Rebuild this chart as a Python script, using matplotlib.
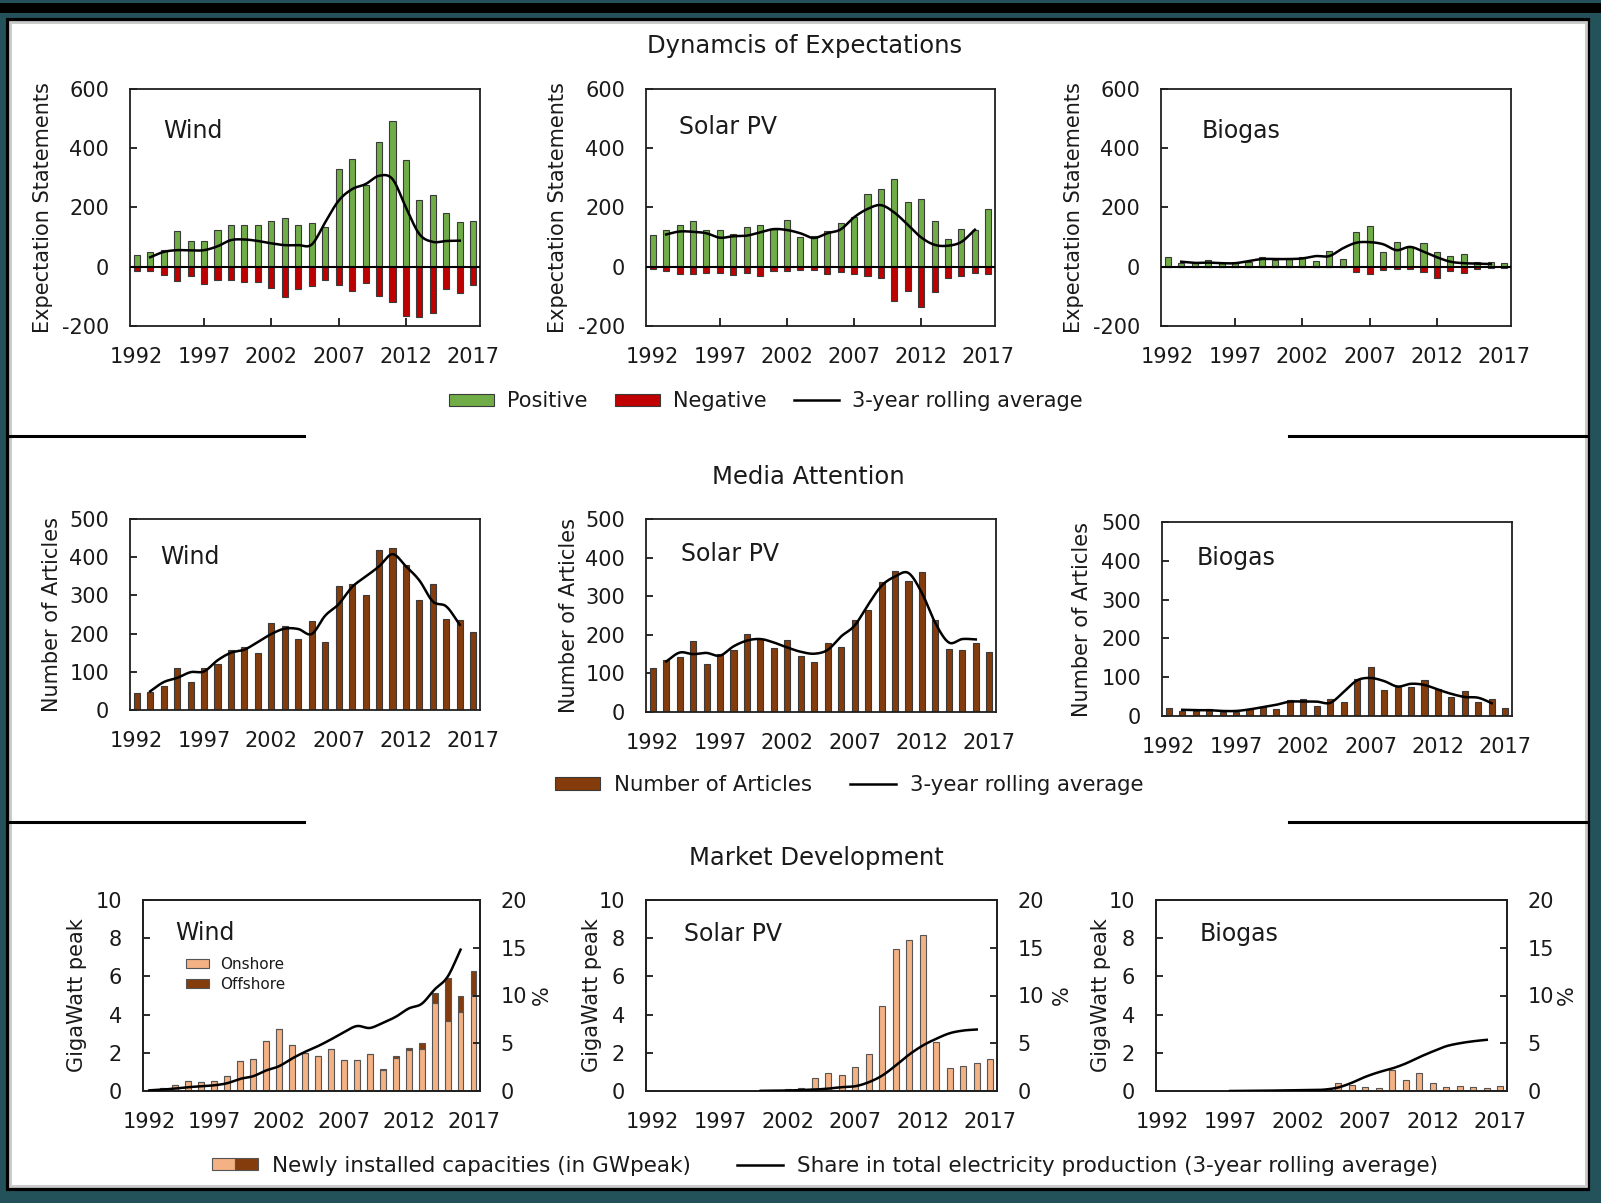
import numpy as np
import matplotlib
matplotlib.use("Agg")
import matplotlib.pyplot as plt
from matplotlib.patches import Patch, Rectangle
from matplotlib.lines import Line2D
from matplotlib.legend_handler import HandlerTuple

# ---- data -------------------------------------------------------------
years = np.arange(1992, 2018)
tick_years = [1992, 1997, 2002, 2007, 2012, 2017]

# expectation statements (positive / negative counts, net 3-year average 1993-2016)
wind_pos = [38, 51, 57, 120, 87, 88, 125, 140, 142, 140, 156, 164, 142, 146, 135,
            330, 363, 276, 420, 493, 362, 225, 243, 181, 150, 154]
wind_neg = [-16, -13, -27, -47, -30, -58, -45, -45, -52, -52, -72, -101, -75, -66, -44,
            -61, -81, -55, -99, -120, -165, -168, -155, -75, -87, -62]
wind_avg = [32, 50, 56, 55, 56, 69, 90, 92, 87, 79, 73, 73, 75, 150, 223, 262, 279,
            307, 296, 200, 110, 84, 87, 88]

solar_pos = [107, 125, 140, 155, 123, 124, 111, 135, 140, 127, 157, 100, 103, 120, 147,
             167, 247, 262, 295, 219, 228, 154, 93, 129, 125, 195]
solar_neg = [-9, -16, -24, -25, -20, -22, -27, -20, -32, -13, -13, -11, -10, -24, -18,
             -25, -30, -39, -115, -82, -135, -85, -39, -30, -20, -25]
solar_avg = [109, 119, 118, 113, 98, 103, 105, 116, 127, 124, 113, 97, 113, 126, 167,
             195, 208, 183, 142, 99, 74, 71, 84, 125]

bio_pos = [34, 13, 11, 22, 13, 12, 17, 33, 22, 25, 33, 20, 52, 25, 117, 137, 51, 82,
           67, 80, 51, 35, 43, 16, 16, 12]
bio_neg = [0, 0, 0, 0, 0, 0, 0, 0, 0, 0, 0, 0, 0, 0, -17, -25, -11, -9, -9, -19, -39,
           -13, -22, -8, -4, -5]
bio_avg = [17, 13, 14, 12, 12, 19, 26, 26, 26, 28, 36, 36, 62, 81, 83, 76, 56, 67, 51,
           32, 17, 12, 11, 9]

# media attention (articles per year, 3-year average 1993-2016)
wind_art = [45, 47, 62, 111, 72, 110, 121, 158, 164, 150, 229, 219, 185, 232, 178, 324,
            330, 302, 419, 424, 380, 289, 331, 237, 236, 203]
wind_art_avg = [49, 73, 84, 99, 101, 130, 150, 158, 178, 199, 213, 212, 199, 247, 277,
                322, 349, 376, 408, 376, 339, 284, 271, 223]

solar_art = [115, 135, 143, 184, 125, 151, 161, 202, 189, 166, 187, 146, 130, 179, 169,
             239, 263, 337, 366, 340, 362, 238, 163, 160, 179, 155]
solar_art_avg = [131, 154, 150, 153, 146, 170, 185, 189, 180, 167, 156, 151, 161, 196,
                 224, 278, 327, 351, 360, 308, 230, 180, 189, 188]

bio_art = [21, 13, 13, 19, 11, 11, 17, 23, 19, 42, 44, 25, 43, 37, 96, 126, 67, 74, 76,
           92, 70, 50, 65, 35, 44, 21]
bio_art_avg = [16, 15, 15, 13, 13, 17, 23, 29, 37, 37, 37, 34, 62, 92, 98, 90, 76, 83,
               80, 68, 57, 49, 47, 33]

# market development: new capacity (GWp) and share of electricity (%)
wind_on = [0.05, 0.15, 0.29, 0.50, 0.45, 0.53, 0.78, 1.56, 1.65, 2.64, 3.26, 2.40, 2.00,
           1.84, 2.21, 1.63, 1.63, 1.94, 1.11, 1.73, 2.17, 2.20, 4.63, 3.66, 4.16, 5.00]
wind_off = [0, 0, 0, 0, 0, 0, 0, 0, 0, 0, 0, 0, 0, 0, 0, 0, 0, 0.02, 0.05, 0.10, 0.08,
            0.29, 0.50, 2.28, 0.82, 1.29]
wind_share_years = np.arange(1992, 2017)
wind_share = [0.07, 0.15, 0.26, 0.40, 0.50, 0.60, 0.82, 1.27, 1.55, 2.15, 2.60, 3.40,
              4.10, 4.70, 5.40, 6.16, 6.80, 6.60, 7.14, 7.77, 8.64, 9.13, 10.63, 11.96,
              14.80]

solar_cap = [0, 0, 0, 0, 0, 0, 0, 0, 0.02, 0.05, 0.10, 0.15, 0.67, 0.95, 0.83, 1.28,
             1.95, 4.45, 7.44, 7.91, 8.18, 2.59, 1.18, 1.32, 1.49, 1.69]
solar_share_years = np.arange(2000, 2017)
solar_share = [0.02, 0.03, 0.05, 0.10, 0.15, 0.25, 0.40, 0.50, 0.92, 1.62, 2.67, 3.82,
               4.76, 5.47, 6.05, 6.33, 6.44]

bio_cap = [0, 0, 0, 0, 0, 0, 0, 0, 0, 0, 0, 0, 0, 0.41, 0.29, 0.22, 0.18, 1.09, 0.57,
           0.94, 0.41, 0.23, 0.26, 0.23, 0.18, 0.26]
bio_share_years = np.arange(1997, 2017)
bio_share = [0.0, 0.01, 0.02, 0.04, 0.06, 0.08, 0.10, 0.15, 0.37, 0.86, 1.48, 1.97,
             2.36, 2.88, 3.54, 4.14, 4.69, 5.00, 5.21, 5.36]

# ---- style ------------------------------------------------------------
GREEN = "#70ad47"
RED = "#c00000"
BROWN = "#843c0c"
LIGHT = "#f4b183"
EDGE = "#3a3a3a"
INK = "#1a1a1a"
TEAL = "#23525a"

plt.rcParams["font.family"] = ["DejaVu Sans"]
plt.rcParams["axes.unicode_minus"] = False
plt.rcParams["text.color"] = INK
plt.rcParams["axes.labelcolor"] = INK
plt.rcParams["xtick.color"] = INK
plt.rcParams["ytick.color"] = INK

W, H = 1601, 1203
fig = plt.figure(figsize=(W / 100, H / 100), dpi=100)
fig.patch.set_facecolor(TEAL)

# dark band along the top, then the white card with a soft grey rim
fig.add_artist(Rectangle((0, 1 - 13 / H), 1, 10 / H, transform=fig.transFigure,
                         facecolor="black", edgecolor="none", zorder=-11))
fig.add_artist(Rectangle((8 / W, 1 - 1189 / H), 1580 / W, 1169 / H,
                         transform=fig.transFigure, facecolor="white",
                         edgecolor="black", lw=3, zorder=-10))
fig.add_artist(Rectangle((10 / W, 1 - 1186 / H), 1576 / W, 1164 / H,
                         transform=fig.transFigure, facecolor="none",
                         edgecolor="#c8c8c8", lw=2, zorder=-9))

def smooth(x, y, n=16):
    # Catmull-Rom curve through the points (like a smoothed line in a spreadsheet)
    x = np.asarray(x, float)
    y = np.asarray(y, float)
    px = np.concatenate([[2 * x[0] - x[1]], x, [2 * x[-1] - x[-2]]])
    py = np.concatenate([[2 * y[0] - y[1]], y, [2 * y[-1] - y[-2]]])
    t = np.linspace(0, 1, n, endpoint=False)
    xs, ys = [], []
    for i in range(1, len(px) - 2):
        for p, out in ((px, xs), (py, ys)):
            p0, p1, p2, p3 = p[i - 1], p[i], p[i + 1], p[i + 2]
            out.extend(0.5 * (2 * p1 + (-p0 + p2) * t
                              + (2 * p0 - 5 * p1 + 4 * p2 - p3) * t ** 2
                              + (-p0 + 3 * p1 - 3 * p2 + p3) * t ** 3))
    xs.append(x[-1])
    ys.append(y[-1])
    return np.array(xs), np.array(ys)


def add_ax(l, t, r, b):
    return fig.add_axes([l / W, 1 - b / H, (r - l) / W, (b - t) / H])


def base_style(ax, xtick_len):
    ax.set_xlim(1991.5, 2017.5)
    ax.set_xticks(tick_years)
    for sp in ax.spines.values():
        sp.set_linewidth(1.3)
        sp.set_color("#202020")
    ax.tick_params(axis="x", direction="in", length=xtick_len, width=1.3,
                   labelsize=15, pad=15)
    ax.tick_params(axis="y", direction="in", length=5, width=1.3,
                   labelsize=15, pad=15)
    ticks = ax.xaxis.get_major_ticks()
    ticks[0].tick1line.set_visible(False)
    ticks[-1].tick1line.set_visible(False)


def panel_label(ax, text, x, y):
    ax.text(x, y, text, transform=ax.transAxes, fontsize=17, va="center", ha="left")


# ---- row 1: expectations ----------------------------------------------
row1 = [
    ((130, 89, 480, 326), wind_pos, wind_neg, wind_avg, "Wind", (0.094, 0.824), -0.219),
    ((646, 89, 995, 326), solar_pos, solar_neg, solar_avg, "Solar PV", (0.095, 0.841), -0.223),
    ((1161, 89, 1511, 326), bio_pos, bio_neg, bio_avg, "Biogas", (0.116, 0.824), -0.219),
]
for box, pos, neg, avg, name, lxy, ylx in row1:
    ax = add_ax(*box)
    ax.bar(years, pos, width=0.45, color=GREEN, edgecolor=EDGE, lw=0.8, zorder=2)
    ax.bar(years, neg, width=0.45, color=RED, edgecolor=EDGE, lw=0.8, zorder=2)
    ax.axhline(0, color="black", lw=1.5, zorder=3)
    sx, sy = smooth(years[1:-1], avg)
    ax.plot(sx, sy, color="black", lw=1.8, zorder=4)
    ax.set_ylim(-200, 600)
    ax.set_yticks([-200, 0, 200, 400, 600])
    base_style(ax, 6)
    ax.set_ylabel("Expectation Statements", fontsize=15)
    ax.yaxis.set_label_coords(ylx, 0.5)
    panel_label(ax, name, *lxy)

# ---- row 2: media attention -------------------------------------------
row2 = [
    ((130, 519, 480, 710), wind_art, wind_art_avg, "Wind", (0.087, 0.80), -0.194),
    ((646, 519, 996, 712), solar_art, solar_art_avg, "Solar PV", (0.10, 0.818), -0.192),
    ((1162, 522, 1512, 716), bio_art, bio_art_avg, "Biogas", (0.10, 0.813), -0.200),
]
for box, art, avg, name, lxy, ylx in row2:
    ax = add_ax(*box)
    ax.bar(years, art, width=0.45, color=BROWN, edgecolor=EDGE, lw=0.8, zorder=2)
    sx, sy = smooth(years[1:-1], avg)
    ax.plot(sx, sy, color="black", lw=1.8, zorder=4)
    ax.set_ylim(0, 500)
    ax.set_yticks(range(0, 501, 100))
    base_style(ax, 0)
    ax.set_ylabel("Number of Articles", fontsize=15)
    ax.yaxis.set_label_coords(ylx, 0.5)
    panel_label(ax, name, *lxy)

# ---- row 3: market development ----------------------------------------
row3 = [
    ((143, 900, 480, 1091), "Wind", (0.096, 0.826), -0.167, 1.153,
     wind_share_years, wind_share),
    ((646, 900, 997, 1091), "Solar PV", (0.108, 0.82), -0.125, 1.157,
     solar_share_years, solar_share),
    ((1156, 900, 1507, 1091), "Biogas", (0.125, 0.82), -0.129, 1.142,
     bio_share_years, bio_share),
]
for box, name, lxy, ylx, rlx, sh_years, share in row3:
    ax = add_ax(*box)
    if name == "Wind":
        ax.bar(years, wind_on, width=0.45, color=LIGHT, edgecolor="#555555", lw=0.8, zorder=2)
        ax.bar(years, wind_off, bottom=wind_on, width=0.45, color=BROWN,
               edgecolor="#555555", lw=0.8, zorder=2)
        ax.legend(handles=[Patch(facecolor=LIGHT, edgecolor="#555555", lw=0.8),
                           Patch(facecolor=BROWN, edgecolor="#555555", lw=0.8)],
                  labels=["Onshore", "Offshore"], loc="upper left",
                  bbox_to_anchor=(0.11, 0.735), frameon=False, fontsize=11,
                  handlelength=1.5, handleheight=0.55, labelspacing=0.35,
                  handletextpad=0.7, borderaxespad=0)
    else:
        cap = solar_cap if name == "Solar PV" else bio_cap
        ax.bar(years, cap, width=0.45, color=LIGHT, edgecolor="#555555", lw=0.8, zorder=2)
    ax.set_ylim(0, 10)
    ax.set_yticks(range(0, 11, 2))
    base_style(ax, 0)
    ax.set_ylabel("GigaWatt peak", fontsize=15)
    ax.yaxis.set_label_coords(ylx, 0.5)
    panel_label(ax, name, *lxy)

    ax2 = ax.twinx()
    sx, sy = smooth(sh_years, share)
    ax2.plot(sx, sy, color="black", lw=1.8, zorder=4)
    ax2.set_ylim(0, 20)
    ax2.set_yticks(range(0, 21, 5))
    ax2.tick_params(axis="y", direction="in", length=5, width=1.3, labelsize=15, pad=15)
    for sp in ax2.spines.values():
        sp.set_linewidth(1.3)
        sp.set_color("#202020")
    ax2.set_ylabel("%", fontsize=15, rotation=90)
    ax2.yaxis.set_label_coords(rlx, 0.5)

# ---- section titles, separators, legends ------------------------------
fig.text(804.6 / W, 1 - 46 / H, "Dynamcis of Expectations", fontsize=17.5,
         ha="center", va="center")
fig.text(808.6 / W, 1 - 477 / H, "Media Attention", fontsize=17.5,
         ha="center", va="center")
fig.text(816.8 / W, 1 - 858 / H, "Market Development", fontsize=17.5,
         ha="center", va="center")

for yy in (436, 822):
    fig.add_artist(Line2D([8 / W, 304 / W], [1 - yy / H] * 2, color="black", lw=2.2))
    fig.add_artist(Line2D([1289 / W, 1588 / W], [1 - yy / H] * 2, color="black", lw=2.2))

leg_kw = dict(frameon=False, handlelength=2.15, handleheight=0.5,
              handletextpad=0.65, loc="center")

fig.legend(handles=[Patch(facecolor=GREEN, edgecolor=EDGE, lw=0.8),
                    Patch(facecolor=RED, edgecolor=EDGE, lw=0.8),
                    Line2D([], [], color="black", lw=1.8)],
           labels=["Positive", "Negative", "3-year rolling average"],
           ncol=3, columnspacing=1.3, fontsize=15,
           bbox_to_anchor=(766 / W, 1 - 401 / H), **leg_kw)

fig.legend(handles=[Patch(facecolor=BROWN, edgecolor=EDGE, lw=0.8),
                    Line2D([], [], color="black", lw=1.8)],
           labels=["Number of Articles", "3-year rolling average"],
           ncol=2, columnspacing=1.8, fontsize=15.3,
           bbox_to_anchor=(849 / W, 1 - 785 / H), **leg_kw)

fig.legend(handles=[(Patch(facecolor=LIGHT, edgecolor="#555555", lw=0.8),
                     Patch(facecolor=BROWN, edgecolor="#555555", lw=0.8)),
                    Line2D([], [], color="black", lw=1.8)],
           labels=["Newly installed capacities (in GWpeak)",
                   "Share in total electricity production (3-year rolling average)"],
           handler_map={tuple: HandlerTuple(ndivide=None, pad=0)},
           ncol=2, columnspacing=2.1, fontsize=15.5,
           bbox_to_anchor=(825 / W, 1 - 1166 / H), **leg_kw)

fig.savefig("out.png", dpi=100, facecolor=fig.get_facecolor())
